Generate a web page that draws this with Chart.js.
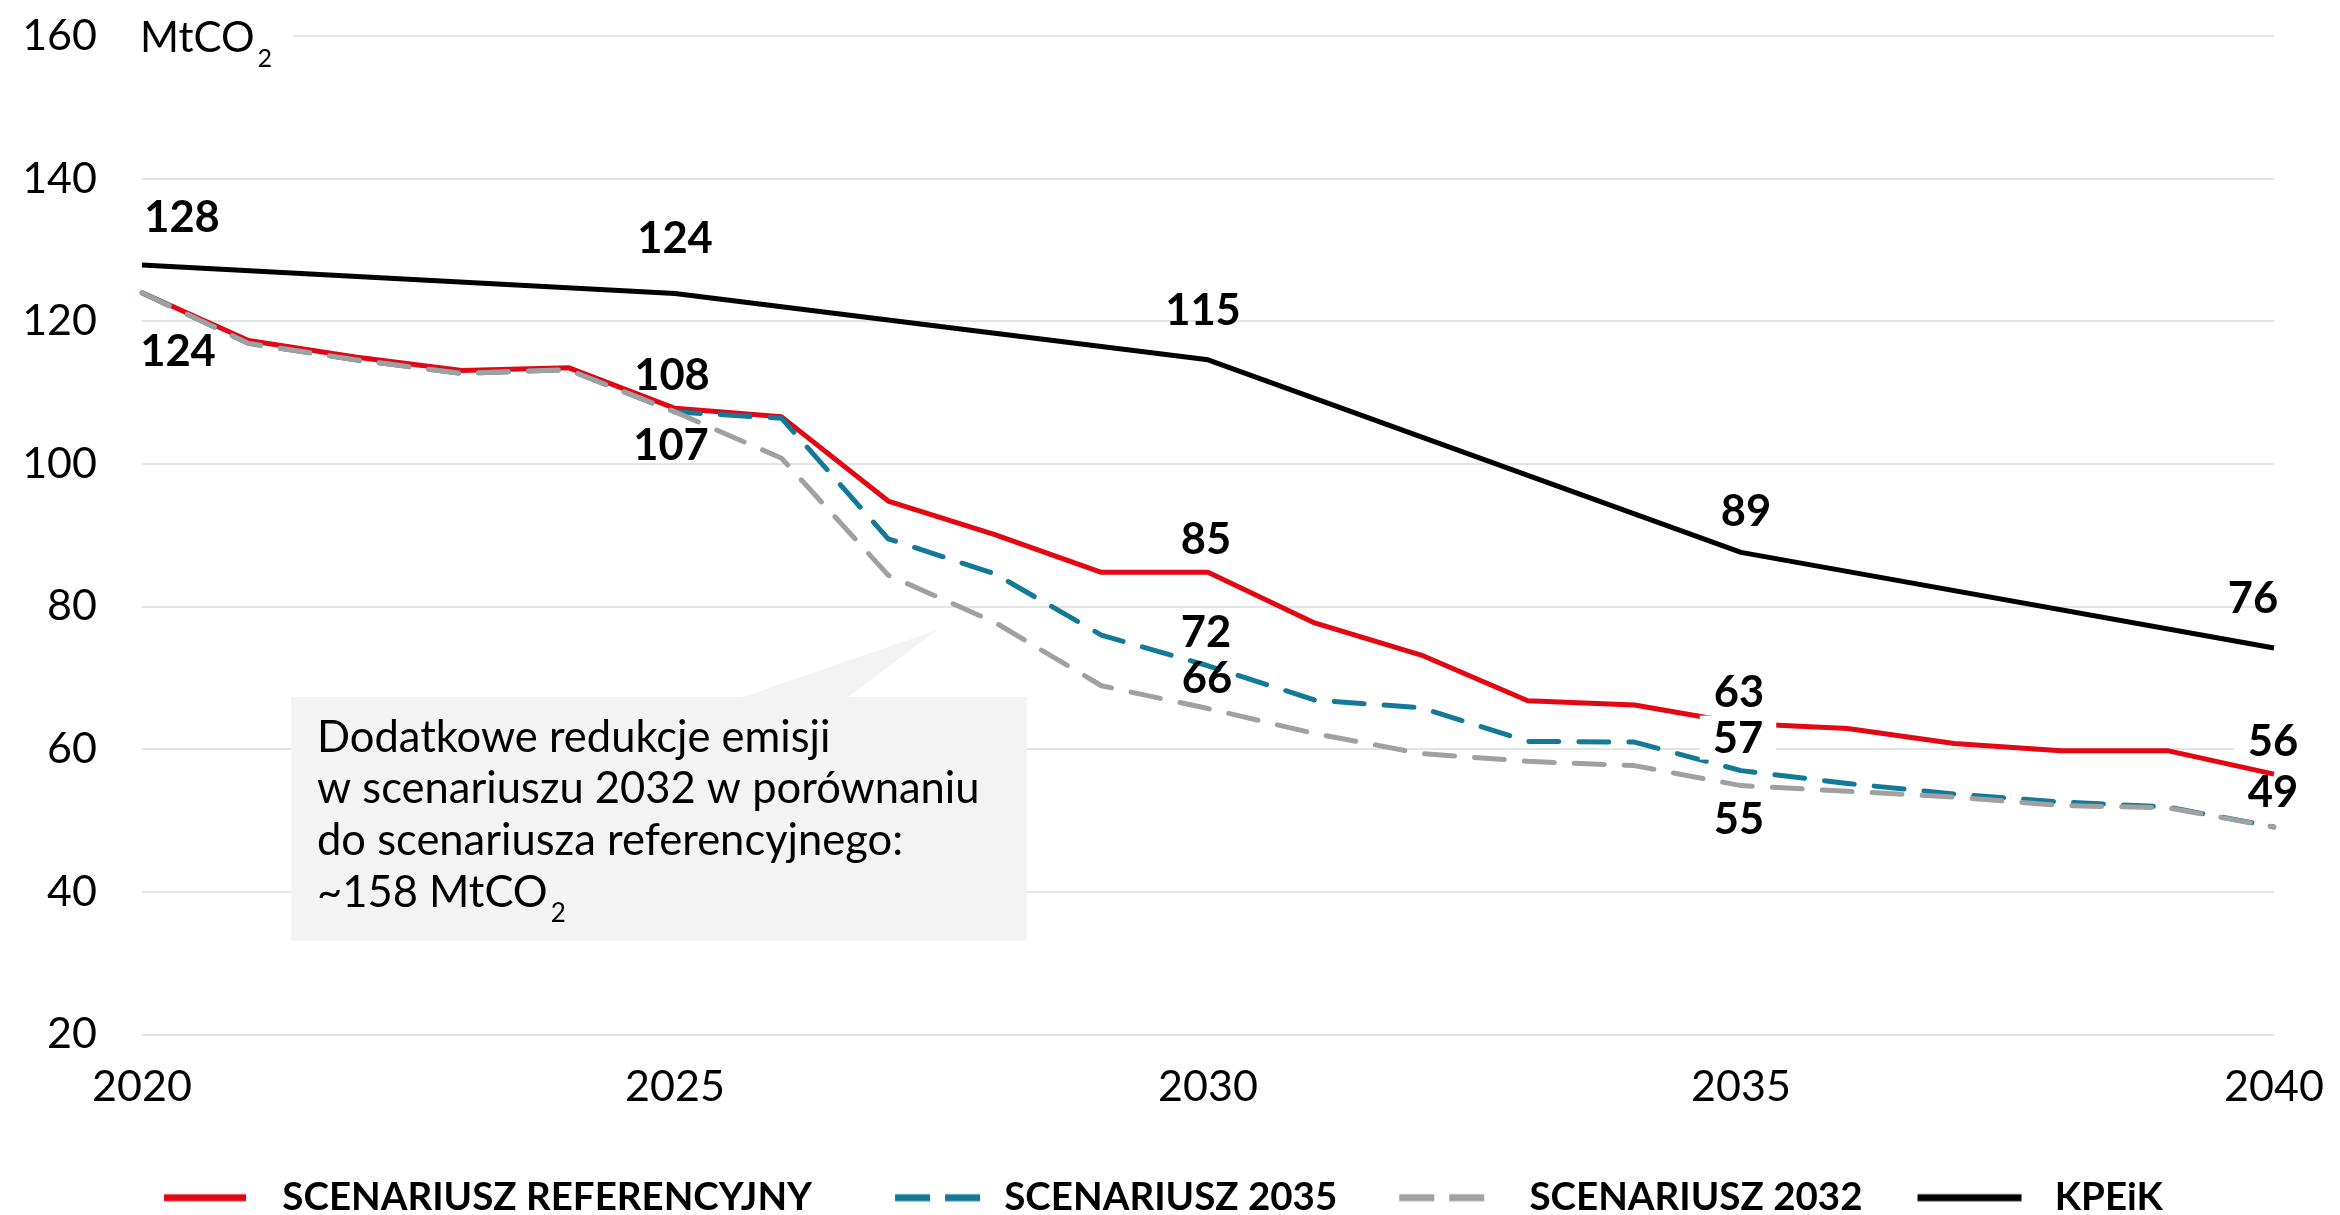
<!DOCTYPE html>
<html><head><meta charset="utf-8">
<script src="https://cdn.jsdelivr.net/npm/chart.js@4.4.1/dist/chart.umd.min.js"></script>
<style>html,body{margin:0;padding:0;background:#fff;}</style>
</head><body>
<canvas id="c" width="2340" height="1215" style="display:block;width:2340px;height:1215px"></canvas>
<script>
// ---------- DATA ----------
const years = [2020,2021,2022,2023,2024,2025,2026,2027,2028,2029,2030,2031,2032,2033,2034,2035,2036,2037,2038,2039,2040];
const scenRef  = [124.0,117.3,115.0,113.1,113.5,107.8,106.6,94.8,90.1,84.8,84.8,77.7,73.2,66.8,66.2,63.6,62.9,60.8,59.8,59.8,56.5];
const scen2035 = [124.0,116.9,114.6,112.7,113.2,107.3,106.4,89.5,84.6,76.0,71.7,66.9,65.8,61.1,61.0,57.0,55.2,53.7,52.6,51.9,49.1];
const scen2032 = [124.0,116.9,114.6,112.7,113.2,107.3,100.8,84.4,77.8,68.9,65.7,62.2,59.4,58.3,57.7,54.9,54.1,53.3,52.1,51.8,49.1];
const kpeik    = [127.9,null,null,null,null,123.9,null,null,null,null,114.6,null,null,null,null,87.6,null,null,null,null,74.2];
const seriesNames = ['SCENARIUSZ REFERENCYJNY','SCENARIUSZ 2035','SCENARIUSZ 2032','KPEiK'];
const yTicks = [20,40,60,80,100,120,140,160];
const xTickYears = [2020,2025,2030,2035,2040];
// data labels: series index, year, text
const labelSeries = [3,3,3,3,3, 0,0,1, 0,1,2, 0,1,2, 0,1];
const labelYears  = [2020,2025,2030,2035,2040, 2020,2025,2025, 2030,2030,2030, 2035,2035,2035, 2040,2040];
const labelTexts  = ['128','124','115','89','76','124','108','107','85','72','66','63','57','55','56','49'];
const unitLabel = 'MtCO';
const noteLines = ['Dodatkowe redukcje emisji','w scenariuszu 2032 w porównaniu','do scenariusza referencyjnego:','~158 MtCO'];

// ---------- STYLE ----------
const colors = ['#e30613','#127a98','#a0a0a0','#000000'];
const dashes = [[],[30,20],[30,20],[]];
const legendDashes = [[],[35,15],[35,15],[]];
const legendLineSpan = [[53,135],[62,149],[41,131],[34,138]];
// label pixel offsets from their point (dx, dy) and white background flag
const labelOffsets = [[40,-48],[0,-56],[-5,-50],[5,-42],[-21,-50],[36,58],[-3,-34],[-4,33],[-2,-34],[-2,-34],[-1,-31],[-2,-32],[-3,-33],[-2,33],[-1,-34],[-1,-35]];
const labelWhiteBg = [0,0,0,0,0,0,0,0,0,0,0,0,1,0,1,0];
const FONT = 'Lato';

function legendImg(i){
  const c = document.createElement('canvas');
  c.width = 152; c.height = 10;
  const g = c.getContext('2d');
  g.strokeStyle = colors[i]; g.lineWidth = 7; g.setLineDash(legendDashes[i]);
  g.beginPath(); g.moveTo(legendLineSpan[i][0],5); g.lineTo(legendLineSpan[i][1],5); g.stroke();
  return c;
}

const overlay = {
  id:'overlay',
  beforeDatasetsDraw(chart){
    const ctx = chart.ctx;
    ctx.save();
    // unit label with white background covering the top gridline
    ctx.fillStyle = '#fff';
    ctx.fillRect(130, 18, 163, 40);
    ctx.fillStyle = '#000';
    ctx.font = `42px ${FONT}`;
    ctx.textBaseline = 'alphabetic'; ctx.textAlign = 'left';
    ctx.fillText(unitLabel, 140, 52);
    const w = ctx.measureText(unitLabel).width;
    ctx.font = `25px ${FONT}`;
    ctx.fillText('2', 140 + w + 3, 67);
    // note box
    ctx.fillStyle = '#f3f3f3';
    ctx.fillRect(291, 697, 736, 244);
    ctx.beginPath(); ctx.moveTo(743,697); ctx.lineTo(937,630); ctx.lineTo(848,697); ctx.closePath(); ctx.fill();
    ctx.fillStyle = '#000';
    ctx.font = `43.5px ${FONT}`;
    const bases = [752,803,855,907];
    noteLines.forEach((t,i)=>ctx.fillText(t, 317, bases[i]));
    const w2 = ctx.measureText(noteLines[3]).width;
    ctx.font = `26px ${FONT}`;
    ctx.fillText('2', 317 + w2 + 3, 922);
    ctx.restore();
  },
  afterDatasetsDraw(chart){
    const ctx = chart.ctx, xs = chart.scales.x, ys = chart.scales.y;
    const data = [scenRef, scen2035, scen2032, kpeik];
    ctx.save();
    ctx.font = `bold 43.5px ${FONT}`;
    ctx.textAlign = 'center'; ctx.textBaseline = 'alphabetic';
    labelTexts.forEach((t,i)=>{
      const idx = years.indexOf(labelYears[i]);
      const px = xs.getPixelForValue(idx) + labelOffsets[i][0];
      const py = ys.getPixelForValue(data[labelSeries[i]][idx]) + labelOffsets[i][1];
      if (labelWhiteBg[i]) {
        const tw = ctx.measureText(t).width;
        ctx.fillStyle = '#fff';
        ctx.fillRect(px - tw/2 - 13, py - 22, tw + 26, 44);
      }
      ctx.fillStyle = '#000';
      ctx.fillText(t, px, py + 15.5);
    });
    ctx.restore();
  }
};

const dsData = [scenRef, scen2035, scen2032, kpeik];
const chart = new Chart(document.getElementById('c'), {
  type:'line',
  data:{
    labels: years.map(String),
    datasets: dsData.map((d,i)=>({
      label: seriesNames[i], data: d,
      borderColor: colors[i], backgroundColor: colors[i],
      borderWidth: 5, borderDash: dashes[i], borderCapStyle: i===1||i===2 ? 'round':'butt',
      borderJoinStyle:'round',
      pointRadius: 0, pointHoverRadius: 0, tension: 0, spanGaps: true, fill:false,
      order: 4 - i
    }))
  },
  options:{
    responsive:false, animation:false, events:[],
    layout:{padding:{top:36,right:66,left:0,bottom:-12}},
    scales:{
      x:{
        grid:{display:false}, border:{display:false},
        ticks:{autoSkip:false, maxRotation:0, padding:19, color:'#000', font:{family:FONT,size:43},
          callback:(v,i)=> xTickYears.includes(years[i]) ? String(years[i]) : ''},
        afterFit(s){ s.height = 123; s.paddingLeft = 0; s.paddingRight = 0; }
      },
      y:{
        min:20, max:160,
        afterBuildTicks(s){ s.ticks = yTicks.map(v=>({value:v})); },
        grid:{color:'#e4e4e4', lineWidth:2, drawTicks:false},
        border:{display:false},
        ticks:{padding:45, color:'#000', font:{family:FONT,size:43}},
        afterFit(s){ s.width = 142; s.paddingTop = 0; s.paddingBottom = 0; }
      }
    },
    plugins:{
      tooltip:{enabled:false},
      legend:{
        position:'bottom',
        labels:{
          usePointStyle:true, pointStyleWidth:152, padding:21, color:'#000',
          font:{family:FONT,size:38.5,weight:'bold'},
          generateLabels(chart){
            const items = Chart.defaults.plugins.legend.labels.generateLabels(chart);
            items.forEach(it=>{ it.pointStyle = legendImg(it.datasetIndex); });
            return items;
          },
          sort:(a,b)=>a.datasetIndex-b.datasetIndex
        }
      }
    }
  },
  plugins:[overlay]
});
</script>
</body></html>
